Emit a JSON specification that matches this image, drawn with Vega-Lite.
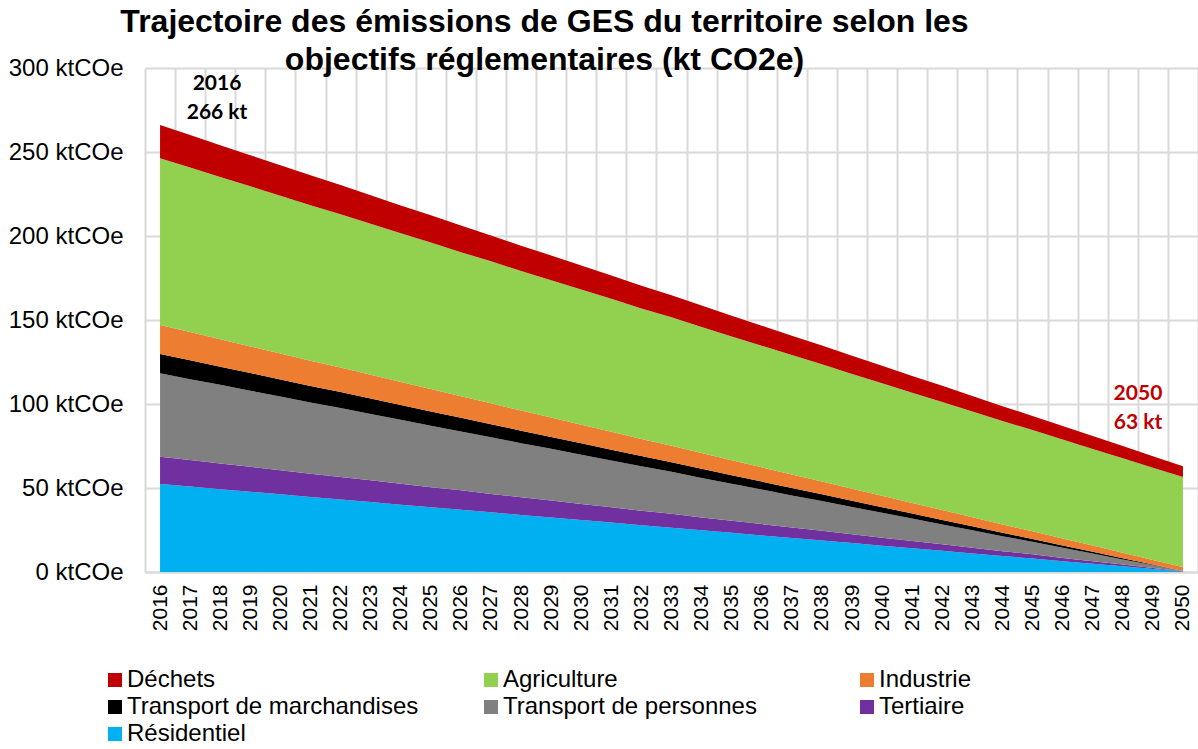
{
"$schema":"https://vega.github.io/schema/vega-lite/v6.json",
"width":1053,"height":504,
"autosize":{"type":"none"},
"padding":{"left":145,"top":68,"right":0,"bottom":177},
"background":"white",
"config":{"font":"Liberation Sans","view":{"stroke":null}},
"title":{"text":["Trajectoire des émissions de GES du territoire selon les","objectifs réglementaires (kt CO2e)"],"fontSize":32,"fontWeight":"bold","font":"Liberation Sans","color":"#000000","lineHeight":38,"anchor":"middle","dx":-127,"offset":-21},
"layer":[
{"data":{"values":[
{"annee":"2016","secteur":"Résidentiel","kt":52.4},{"annee":"2016","secteur":"Tertiaire","kt":16.2},{"annee":"2016","secteur":"Transport de personnes","kt":49.7},{"annee":"2016","secteur":"Transport de marchandises","kt":11.5},{"annee":"2016","secteur":"Industrie","kt":17.2},{"annee":"2016","secteur":"Agriculture","kt":99.3},{"annee":"2016","secteur":"Déchets","kt":19.7},
{"annee":"2017","secteur":"Résidentiel","kt":50.9},{"annee":"2017","secteur":"Tertiaire","kt":15.7},{"annee":"2017","secteur":"Transport de personnes","kt":48.2},{"annee":"2017","secteur":"Transport de marchandises","kt":11.2},{"annee":"2017","secteur":"Industrie","kt":16.8},{"annee":"2017","secteur":"Agriculture","kt":98.0},{"annee":"2017","secteur":"Déchets","kt":19.3},
{"annee":"2018","secteur":"Résidentiel","kt":49.3},{"annee":"2018","secteur":"Tertiaire","kt":15.3},{"annee":"2018","secteur":"Transport de personnes","kt":46.8},{"annee":"2018","secteur":"Transport de marchandises","kt":10.8},{"annee":"2018","secteur":"Industrie","kt":16.3},{"annee":"2018","secteur":"Agriculture","kt":96.6},{"annee":"2018","secteur":"Déchets","kt":18.9},
{"annee":"2019","secteur":"Résidentiel","kt":47.8},{"annee":"2019","secteur":"Tertiaire","kt":14.8},{"annee":"2019","secteur":"Transport de personnes","kt":45.3},{"annee":"2019","secteur":"Transport de marchandises","kt":10.5},{"annee":"2019","secteur":"Industrie","kt":15.9},{"annee":"2019","secteur":"Agriculture","kt":95.3},{"annee":"2019","secteur":"Déchets","kt":18.5},
{"annee":"2020","secteur":"Résidentiel","kt":46.3},{"annee":"2020","secteur":"Tertiaire","kt":14.3},{"annee":"2020","secteur":"Transport de personnes","kt":43.9},{"annee":"2020","secteur":"Transport de marchandises","kt":10.1},{"annee":"2020","secteur":"Industrie","kt":15.5},{"annee":"2020","secteur":"Agriculture","kt":93.9},{"annee":"2020","secteur":"Déchets","kt":18.1},
{"annee":"2021","secteur":"Résidentiel","kt":44.7},{"annee":"2021","secteur":"Tertiaire","kt":13.8},{"annee":"2021","secteur":"Transport de personnes","kt":42.4},{"annee":"2021","secteur":"Transport de marchandises","kt":9.8},{"annee":"2021","secteur":"Industrie","kt":15.0},{"annee":"2021","secteur":"Agriculture","kt":92.6},{"annee":"2021","secteur":"Déchets","kt":17.8},
{"annee":"2022","secteur":"Résidentiel","kt":43.2},{"annee":"2022","secteur":"Tertiaire","kt":13.4},{"annee":"2022","secteur":"Transport de personnes","kt":41.0},{"annee":"2022","secteur":"Transport de marchandises","kt":9.5},{"annee":"2022","secteur":"Industrie","kt":14.6},{"annee":"2022","secteur":"Agriculture","kt":91.2},{"annee":"2022","secteur":"Déchets","kt":17.4},
{"annee":"2023","secteur":"Résidentiel","kt":41.7},{"annee":"2023","secteur":"Tertiaire","kt":12.9},{"annee":"2023","secteur":"Transport de personnes","kt":39.5},{"annee":"2023","secteur":"Transport de marchandises","kt":9.1},{"annee":"2023","secteur":"Industrie","kt":14.2},{"annee":"2023","secteur":"Agriculture","kt":89.9},{"annee":"2023","secteur":"Déchets","kt":17.0},
{"annee":"2024","secteur":"Résidentiel","kt":40.1},{"annee":"2024","secteur":"Tertiaire","kt":12.4},{"annee":"2024","secteur":"Transport de personnes","kt":38.1},{"annee":"2024","secteur":"Transport de marchandises","kt":8.8},{"annee":"2024","secteur":"Industrie","kt":13.7},{"annee":"2024","secteur":"Agriculture","kt":88.5},{"annee":"2024","secteur":"Déchets","kt":16.6},
{"annee":"2025","secteur":"Résidentiel","kt":38.6},{"annee":"2025","secteur":"Tertiaire","kt":11.9},{"annee":"2025","secteur":"Transport de personnes","kt":36.6},{"annee":"2025","secteur":"Transport de marchandises","kt":8.5},{"annee":"2025","secteur":"Industrie","kt":13.3},{"annee":"2025","secteur":"Agriculture","kt":87.2},{"annee":"2025","secteur":"Déchets","kt":16.2},
{"annee":"2026","secteur":"Résidentiel","kt":37.1},{"annee":"2026","secteur":"Tertiaire","kt":11.5},{"annee":"2026","secteur":"Transport de personnes","kt":35.1},{"annee":"2026","secteur":"Transport de marchandises","kt":8.1},{"annee":"2026","secteur":"Industrie","kt":12.8},{"annee":"2026","secteur":"Agriculture","kt":85.8},{"annee":"2026","secteur":"Déchets","kt":15.8},
{"annee":"2027","secteur":"Résidentiel","kt":35.5},{"annee":"2027","secteur":"Tertiaire","kt":11.0},{"annee":"2027","secteur":"Transport de personnes","kt":33.7},{"annee":"2027","secteur":"Transport de marchandises","kt":7.8},{"annee":"2027","secteur":"Industrie","kt":12.4},{"annee":"2027","secteur":"Agriculture","kt":84.5},{"annee":"2027","secteur":"Déchets","kt":15.4},
{"annee":"2028","secteur":"Résidentiel","kt":34.0},{"annee":"2028","secteur":"Tertiaire","kt":10.5},{"annee":"2028","secteur":"Transport de personnes","kt":32.2},{"annee":"2028","secteur":"Transport de marchandises","kt":7.4},{"annee":"2028","secteur":"Industrie","kt":12.0},{"annee":"2028","secteur":"Agriculture","kt":83.1},{"annee":"2028","secteur":"Déchets","kt":15.0},
{"annee":"2029","secteur":"Résidentiel","kt":32.5},{"annee":"2029","secteur":"Tertiaire","kt":10.0},{"annee":"2029","secteur":"Transport de personnes","kt":30.8},{"annee":"2029","secteur":"Transport de marchandises","kt":7.1},{"annee":"2029","secteur":"Industrie","kt":11.5},{"annee":"2029","secteur":"Agriculture","kt":81.8},{"annee":"2029","secteur":"Déchets","kt":14.7},
{"annee":"2030","secteur":"Résidentiel","kt":30.9},{"annee":"2030","secteur":"Tertiaire","kt":9.6},{"annee":"2030","secteur":"Transport de personnes","kt":29.3},{"annee":"2030","secteur":"Transport de marchandises","kt":6.8},{"annee":"2030","secteur":"Industrie","kt":11.1},{"annee":"2030","secteur":"Agriculture","kt":80.4},{"annee":"2030","secteur":"Déchets","kt":14.3},
{"annee":"2031","secteur":"Résidentiel","kt":29.4},{"annee":"2031","secteur":"Tertiaire","kt":9.1},{"annee":"2031","secteur":"Transport de personnes","kt":27.9},{"annee":"2031","secteur":"Transport de marchandises","kt":6.4},{"annee":"2031","secteur":"Industrie","kt":10.7},{"annee":"2031","secteur":"Agriculture","kt":79.1},{"annee":"2031","secteur":"Déchets","kt":13.9},
{"annee":"2032","secteur":"Résidentiel","kt":27.9},{"annee":"2032","secteur":"Tertiaire","kt":8.6},{"annee":"2032","secteur":"Transport de personnes","kt":26.4},{"annee":"2032","secteur":"Transport de marchandises","kt":6.1},{"annee":"2032","secteur":"Industrie","kt":10.2},{"annee":"2032","secteur":"Agriculture","kt":77.7},{"annee":"2032","secteur":"Déchets","kt":13.5},
{"annee":"2033","secteur":"Résidentiel","kt":26.4},{"annee":"2033","secteur":"Tertiaire","kt":8.2},{"annee":"2033","secteur":"Transport de personnes","kt":25.0},{"annee":"2033","secteur":"Transport de marchandises","kt":5.8},{"annee":"2033","secteur":"Industrie","kt":9.8},{"annee":"2033","secteur":"Agriculture","kt":76.4},{"annee":"2033","secteur":"Déchets","kt":13.1},
{"annee":"2034","secteur":"Résidentiel","kt":24.8},{"annee":"2034","secteur":"Tertiaire","kt":7.7},{"annee":"2034","secteur":"Transport de personnes","kt":23.5},{"annee":"2034","secteur":"Transport de marchandises","kt":5.4},{"annee":"2034","secteur":"Industrie","kt":9.4},{"annee":"2034","secteur":"Agriculture","kt":75.1},{"annee":"2034","secteur":"Déchets","kt":12.7},
{"annee":"2035","secteur":"Résidentiel","kt":23.3},{"annee":"2035","secteur":"Tertiaire","kt":7.2},{"annee":"2035","secteur":"Transport de personnes","kt":22.0},{"annee":"2035","secteur":"Transport de marchandises","kt":5.1},{"annee":"2035","secteur":"Industrie","kt":8.9},{"annee":"2035","secteur":"Agriculture","kt":73.7},{"annee":"2035","secteur":"Déchets","kt":12.3},
{"annee":"2036","secteur":"Résidentiel","kt":21.8},{"annee":"2036","secteur":"Tertiaire","kt":6.7},{"annee":"2036","secteur":"Transport de personnes","kt":20.6},{"annee":"2036","secteur":"Transport de marchandises","kt":4.7},{"annee":"2036","secteur":"Industrie","kt":8.5},{"annee":"2036","secteur":"Agriculture","kt":72.4},{"annee":"2036","secteur":"Déchets","kt":11.9},
{"annee":"2037","secteur":"Résidentiel","kt":20.2},{"annee":"2037","secteur":"Tertiaire","kt":6.3},{"annee":"2037","secteur":"Transport de personnes","kt":19.1},{"annee":"2037","secteur":"Transport de marchandises","kt":4.4},{"annee":"2037","secteur":"Industrie","kt":8.1},{"annee":"2037","secteur":"Agriculture","kt":71.0},{"annee":"2037","secteur":"Déchets","kt":11.5},
{"annee":"2038","secteur":"Résidentiel","kt":18.7},{"annee":"2038","secteur":"Tertiaire","kt":5.8},{"annee":"2038","secteur":"Transport de personnes","kt":17.7},{"annee":"2038","secteur":"Transport de marchandises","kt":4.1},{"annee":"2038","secteur":"Industrie","kt":7.6},{"annee":"2038","secteur":"Agriculture","kt":69.7},{"annee":"2038","secteur":"Déchets","kt":11.2},
{"annee":"2039","secteur":"Résidentiel","kt":17.2},{"annee":"2039","secteur":"Tertiaire","kt":5.3},{"annee":"2039","secteur":"Transport de personnes","kt":16.2},{"annee":"2039","secteur":"Transport de marchandises","kt":3.7},{"annee":"2039","secteur":"Industrie","kt":7.2},{"annee":"2039","secteur":"Agriculture","kt":68.3},{"annee":"2039","secteur":"Déchets","kt":10.8},
{"annee":"2040","secteur":"Résidentiel","kt":15.6},{"annee":"2040","secteur":"Tertiaire","kt":4.8},{"annee":"2040","secteur":"Transport de personnes","kt":14.8},{"annee":"2040","secteur":"Transport de marchandises","kt":3.4},{"annee":"2040","secteur":"Industrie","kt":6.8},{"annee":"2040","secteur":"Agriculture","kt":67.0},{"annee":"2040","secteur":"Déchets","kt":10.4},
{"annee":"2041","secteur":"Résidentiel","kt":14.1},{"annee":"2041","secteur":"Tertiaire","kt":4.4},{"annee":"2041","secteur":"Transport de personnes","kt":13.3},{"annee":"2041","secteur":"Transport de marchandises","kt":3.0},{"annee":"2041","secteur":"Industrie","kt":6.3},{"annee":"2041","secteur":"Agriculture","kt":65.6},{"annee":"2041","secteur":"Déchets","kt":10.0},
{"annee":"2042","secteur":"Résidentiel","kt":12.6},{"annee":"2042","secteur":"Tertiaire","kt":3.9},{"annee":"2042","secteur":"Transport de personnes","kt":11.8},{"annee":"2042","secteur":"Transport de marchandises","kt":2.7},{"annee":"2042","secteur":"Industrie","kt":5.9},{"annee":"2042","secteur":"Agriculture","kt":64.3},{"annee":"2042","secteur":"Déchets","kt":9.6},
{"annee":"2043","secteur":"Résidentiel","kt":11.0},{"annee":"2043","secteur":"Tertiaire","kt":3.4},{"annee":"2043","secteur":"Transport de personnes","kt":10.4},{"annee":"2043","secteur":"Transport de marchandises","kt":2.4},{"annee":"2043","secteur":"Industrie","kt":5.4},{"annee":"2043","secteur":"Agriculture","kt":62.9},{"annee":"2043","secteur":"Déchets","kt":9.2},
{"annee":"2044","secteur":"Résidentiel","kt":9.5},{"annee":"2044","secteur":"Tertiaire","kt":2.9},{"annee":"2044","secteur":"Transport de personnes","kt":8.9},{"annee":"2044","secteur":"Transport de marchandises","kt":2.0},{"annee":"2044","secteur":"Industrie","kt":5.0},{"annee":"2044","secteur":"Agriculture","kt":61.6},{"annee":"2044","secteur":"Déchets","kt":8.8},
{"annee":"2045","secteur":"Résidentiel","kt":8.0},{"annee":"2045","secteur":"Tertiaire","kt":2.5},{"annee":"2045","secteur":"Transport de personnes","kt":7.5},{"annee":"2045","secteur":"Transport de marchandises","kt":1.7},{"annee":"2045","secteur":"Industrie","kt":4.6},{"annee":"2045","secteur":"Agriculture","kt":60.2},{"annee":"2045","secteur":"Déchets","kt":8.4},
{"annee":"2046","secteur":"Résidentiel","kt":6.4},{"annee":"2046","secteur":"Tertiaire","kt":2.0},{"annee":"2046","secteur":"Transport de personnes","kt":6.0},{"annee":"2046","secteur":"Transport de marchandises","kt":1.4},{"annee":"2046","secteur":"Industrie","kt":4.1},{"annee":"2046","secteur":"Agriculture","kt":58.9},{"annee":"2046","secteur":"Déchets","kt":8.1},
{"annee":"2047","secteur":"Résidentiel","kt":4.9},{"annee":"2047","secteur":"Tertiaire","kt":1.5},{"annee":"2047","secteur":"Transport de personnes","kt":4.6},{"annee":"2047","secteur":"Transport de marchandises","kt":1.0},{"annee":"2047","secteur":"Industrie","kt":3.7},{"annee":"2047","secteur":"Agriculture","kt":57.5},{"annee":"2047","secteur":"Déchets","kt":7.7},
{"annee":"2048","secteur":"Résidentiel","kt":3.4},{"annee":"2048","secteur":"Tertiaire","kt":1.0},{"annee":"2048","secteur":"Transport de personnes","kt":3.1},{"annee":"2048","secteur":"Transport de marchandises","kt":0.7},{"annee":"2048","secteur":"Industrie","kt":3.3},{"annee":"2048","secteur":"Agriculture","kt":56.2},{"annee":"2048","secteur":"Déchets","kt":7.3},
{"annee":"2049","secteur":"Résidentiel","kt":1.8},{"annee":"2049","secteur":"Tertiaire","kt":0.6},{"annee":"2049","secteur":"Transport de personnes","kt":1.7},{"annee":"2049","secteur":"Transport de marchandises","kt":0.3},{"annee":"2049","secteur":"Industrie","kt":2.8},{"annee":"2049","secteur":"Agriculture","kt":54.8},{"annee":"2049","secteur":"Déchets","kt":6.9},
{"annee":"2050","secteur":"Résidentiel","kt":0.3},{"annee":"2050","secteur":"Tertiaire","kt":0.1},{"annee":"2050","secteur":"Transport de personnes","kt":0.2},{"annee":"2050","secteur":"Transport de marchandises","kt":0.0},{"annee":"2050","secteur":"Industrie","kt":2.4},{"annee":"2050","secteur":"Agriculture","kt":53.5},{"annee":"2050","secteur":"Déchets","kt":6.5}
]},
"transform":[{"lookup":"secteur","from":{"data":{"values":[
{"secteur":"Résidentiel","rang":1},{"secteur":"Tertiaire","rang":2},{"secteur":"Transport de personnes","rang":3},{"secteur":"Transport de marchandises","rang":4},{"secteur":"Industrie","rang":5},{"secteur":"Agriculture","rang":6},{"secteur":"Déchets","rang":7}
]},"key":"secteur","fields":["rang"]}}],
"mark":{"type":"area","interpolate":"linear","opacity":1},
"encoding":{
"x":{"field":"annee","type":"ordinal","bandPosition":0.5,"scale":{"type":"band","paddingInner":0,"paddingOuter":0},
"axis":{"title":null,"labelAngle":-90,"labelFontSize":21,"labelFont":"Liberation Sans","labelColor":"#000000","labelPadding":12,"ticks":false,"tickBand":"extent","grid":true,"gridColor":"#D9D9D9","gridWidth":2,"domainColor":"#D9D9D9","domainWidth":2}},
"y":{"field":"kt","type":"quantitative","stack":"zero","scale":{"domain":[0,300],"nice":false},
"axis":{"title":null,"values":[0,50,100,150,200,250,300],"labelExpr":"datum.value + ' ktCOe'","labelFontSize":24,"labelFont":"Liberation Sans","labelColor":"#000000","labelPadding":22,"ticks":false,"domain":false,"grid":true,"gridColor":"#D9D9D9","gridWidth":2}},
"order":{"field":"rang","type":"quantitative","sort":"ascending"},
"color":{"field":"secteur","type":"nominal",
"scale":{"domain":["Déchets","Agriculture","Industrie","Transport de marchandises","Transport de personnes","Tertiaire","Résidentiel"],"range":["#C00000","#92D050","#ED7D31","#000000","#808080","#7030A0","#00B0F0"]},
"legend":{"title":null,"orient":"none","legendX":-42,"legendY":600,"columns":3,"direction":"horizontal","gridAlign":"all","columnPadding":60,"rowPadding":3,"symbolType":"square","symbolSize":196,"symbolStrokeWidth":0,"symbolOpacity":1,"labelFontSize":24,"labelFont":"Liberation Sans","labelColor":"#000000","labelOffset":0,"labelLimit":400,
"values":["Déchets","Agriculture","Industrie","Transport de marchandises","Transport de personnes","Tertiaire","Résidentiel"]}}
}},
{"data":{"values":[{"annee":"2016","kt":266,"etiquette":["2016","266 kt"]}]},
"mark":{"type":"text","font":"Lato","fontWeight":"bold","fontSize":21,"lineHeight":29,"color":"#000000","align":"center","baseline":"bottom","dx":57,"dy":-31},
"encoding":{"x":{"field":"annee","type":"ordinal","bandPosition":0.5,"scale":{"type":"band","paddingInner":0,"paddingOuter":0}},"y":{"field":"kt","type":"quantitative"},"text":{"field":"etiquette","type":"nominal"}}},
{"data":{"values":[{"annee":"2050","kt":63,"etiquette":["2050","63 kt"]}]},
"mark":{"type":"text","font":"Lato","fontWeight":"bold","fontSize":21,"lineHeight":29,"color":"#C00000","align":"center","baseline":"bottom","dx":-45,"dy":-62},
"encoding":{"x":{"field":"annee","type":"ordinal","bandPosition":0.5,"scale":{"type":"band","paddingInner":0,"paddingOuter":0}},"y":{"field":"kt","type":"quantitative"},"text":{"field":"etiquette","type":"nominal"}}}
]
}
